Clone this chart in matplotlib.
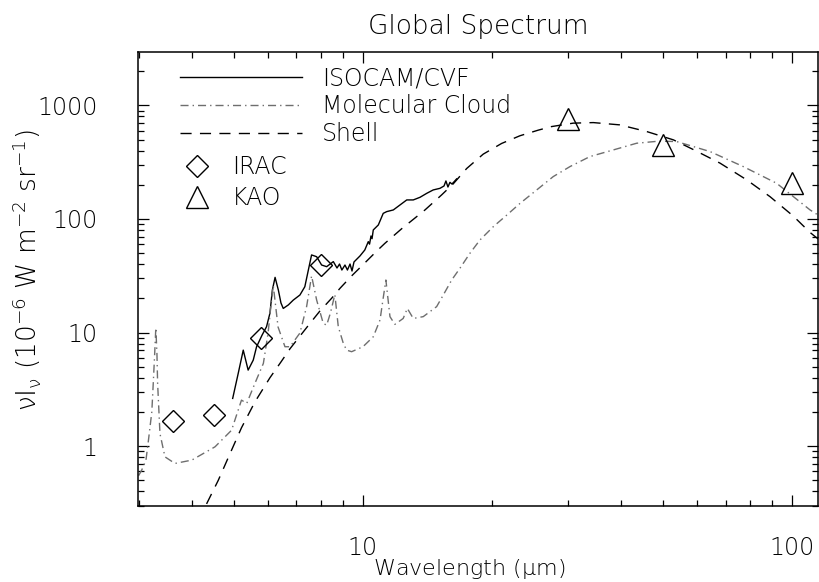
import numpy as np
import matplotlib
matplotlib.use('Agg')
import matplotlib.pyplot as plt
from matplotlib.ticker import FuncFormatter, NullFormatter

plt.rcParams['font.family'] = ['DejaVu Sans']
plt.rcParams['font.weight'] = 'light'
plt.rcParams['axes.titleweight'] = 'light'
plt.rcParams['axes.labelweight'] = 'light'
plt.rcParams['mathtext.fontset'] = 'custom'
plt.rcParams['mathtext.rm'] = 'DejaVu Sans:light'
plt.rcParams['mathtext.it'] = 'DejaVu Sans:light'

# ISOCAM/CVF spectrum (um, 1e-6 W m-2 sr-1)
isocam_wl = [4.97, 5.12, 5.26, 5.40, 5.55, 5.65, 5.82, 5.96, 6.07, 6.15, 6.24, 6.35, 6.44,
             6.52, 6.70, 6.88, 7.13, 7.32, 7.46, 7.59, 7.80, 8.01, 8.23, 8.53, 8.70, 8.82,
             8.93, 9.08, 9.20, 9.33, 9.43, 9.53, 9.84, 10.1, 10.29, 10.36, 10.44, 10.50,
             10.57, 10.86, 11.15, 11.36, 11.77, 12.65, 13.10, 13.58, 14.08, 14.58, 15.12,
             15.45, 15.61, 15.78, 15.95, 16.12, 16.30, 16.53]
isocam_flux = [2.63, 4.37, 7.0, 4.67, 5.72, 7.5, 9.5, 11.25, 14.8, 23.7, 30.6, 23.7, 18.2,
               16.3, 17.5, 19.3, 21.4, 25.3, 35.5, 48.2, 46.5, 39.3, 38.0, 42.1, 37.0, 40.1,
               35.5, 39.3, 35.5, 40.1, 34.8, 41.8, 47.2, 53.3, 63.1, 60.0, 70.8, 67.0,
               80.0, 88.5, 112, 116, 120, 147, 147, 155, 168, 180, 186,
               195, 216, 191, 210, 203, 212, 225]

# molecular cloud model
cloud_wl = [3.0, 3.05, 3.12, 3.16, 3.22, 3.245, 3.27, 3.29, 3.31, 3.322, 3.364, 3.455, 3.646,
            3.99, 4.52, 4.94, 5.21, 5.36, 5.60, 5.86, 6.01, 6.10, 6.18, 6.26, 6.34, 6.58,
            6.76, 7.13, 7.39, 7.59, 7.80, 8.08, 8.23, 8.40, 8.60, 8.76, 9.00, 9.16, 9.41,
            10.0, 10.57, 10.96, 11.13, 11.31, 11.56, 11.87, 12.41, 12.69, 13.10, 13.82,
            14.85, 15.39, 16.10, 16.83, 17.76, 18.74, 20.13, 21.63, 23.23, 25.41, 27.77,
            30.38, 33.81, 38.33, 43.45, 49.0, 53.85, 64.4, 77.0, 92.1, 110.2, 116]
cloud_flux = [0.55, 0.615, 0.75, 1.1, 2.0, 3.57, 6.5, 11.0, 6.5, 3.57, 1.29, 0.805, 0.704,
              0.753, 0.986, 1.38, 2.54, 2.38, 3.57, 5.35, 9.9, 17.0, 26.0, 17.0, 11.2, 7.5,
              7.5, 9.9, 16.9, 31.5, 19.3, 12.05, 11.6, 14.9, 21.6, 11.25, 8.03, 7.0, 6.78,
              7.5, 9.18, 12.9, 19.3, 29.0, 13.8, 11.8, 13.3, 16.3, 13.3, 13.8,
              16.9, 21.4, 29.0, 36.8, 49.9, 65.3, 85.5, 108, 137, 180, 236,
              289, 354, 405, 464, 484, 480, 392, 289, 206, 120, 106]

# shell model
shell_wl = [4.32, 4.60, 4.90, 5.21, 5.60, 6.07, 6.46, 6.76, 7.13, 7.52, 7.94, 8.45, 8.84,
            9.41, 10.1, 10.76, 11.25, 12.31, 13.95, 15.26, 16.24, 17.45, 19.07, 21.05,
            23.23, 25.63, 27.5, 30.9, 34.43, 39.7, 45.85, 52.9, 58.9, 67.96, 78.4, 88.9,
            100.7, 110.2, 116]
shell_flux = [0.31, 0.50, 0.86, 1.45, 2.45, 4.0, 5.6, 7.2, 9.3, 12.0, 15.5, 20.0, 24.5,
              31.5, 41, 52, 61, 82, 120, 163, 204, 278, 372, 462,
              540, 605, 650, 697, 705, 673, 588, 497, 408, 310, 221, 157,
              106, 76, 65]

irac_wl = [3.6, 4.5, 5.8, 8.0]
irac_flux = [1.67, 1.89, 8.9, 39.3]

kao_wl = [30, 50, 100]
kao_flux = [757, 444, 207]

gray = '#6e6e6e'
fs = 17

fig = plt.figure(figsize=(8.19, 5.82), dpi=100)
ax = fig.add_axes([0.1685, 0.1314, 0.8303, 0.7793])

ax.plot(isocam_wl, isocam_flux, color='black', lw=1.0, label='ISOCAM/CVF')
ax.plot(cloud_wl, cloud_flux, color=gray, lw=1.0, dashes=(5.8, 2.9, 1, 2.9),
        label='Molecular Cloud')
ax.plot(shell_wl, shell_flux, color='black', lw=1.0, dashes=(8, 6), label='Shell')
ax.plot(irac_wl, irac_flux, 'D', ms=11, mfc='none', mec='black', mew=1.0, label='IRAC')
ax.plot(kao_wl, kao_flux, '^', ms=16, mfc='none', mec='black', mew=1.0, label='KAO')

ax.set_xscale('log')
ax.set_yscale('log')
ax.set_xlim(2.99, 115)
ax.set_ylim(0.3, 2950)

fmt = FuncFormatter(lambda v, p: '%g' % v)
ax.xaxis.set_major_formatter(fmt)
ax.yaxis.set_major_formatter(fmt)
ax.xaxis.set_minor_formatter(NullFormatter())
ax.yaxis.set_minor_formatter(NullFormatter())

ax.tick_params(which='both', direction='in', top=True, right=True, width=0.9,
               labelsize=fs)
ax.tick_params(which='major', length=8)
ax.tick_params(which='minor', length=4.5)
ax.tick_params(axis='x', pad=22)
ax.tick_params(axis='y', pad=29)
for s in ax.spines.values():
    s.set_linewidth(1.1)

ax.set_title('Global Spectrum', fontsize=19, pad=13)
ax.set_xlabel(r'Wavelength ($\mu$m)', fontsize=16)
ax.set_ylabel(r'$\nu$I$_\nu$ (10$^{-6}$ W m$^{-2}$ sr$^{-1}$)', fontsize=19)
ax.xaxis.set_label_coords(0.4875, -0.113)
ax.yaxis.set_label_coords(-0.1395, 0.519)

h = ax.get_lines()
leg1 = ax.legend(handles=h[:3], loc='upper left', bbox_to_anchor=(0.0617, 0.969),
                 frameon=False, fontsize=fs, handlelength=5.17, handletextpad=0.85,
                 labelspacing=0.17, borderpad=0, borderaxespad=0)
ax.add_artist(leg1)
ax.legend(handles=h[3:], loc='upper left', bbox_to_anchor=(0.0693, 0.7723),
          frameon=False, fontsize=fs, handlelength=1.0, handletextpad=1.0,
          labelspacing=0.28, borderpad=0, borderaxespad=0, numpoints=1)

fig.savefig('out.png', dpi=100)
